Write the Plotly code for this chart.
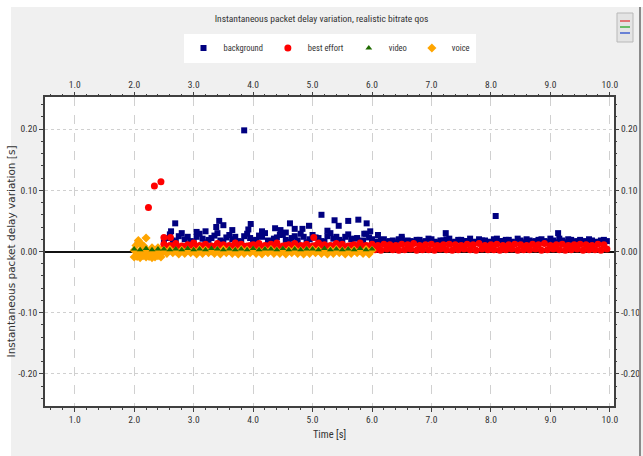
import plotly.graph_objects as go

# ---------------- data ----------------
X_TICKS = [1.0, 2.0, 3.0, 4.0, 5.0, 6.0, 7.0, 8.0, 9.0, 10.0]
X_LABELS = ["1.0", "2.0", "3.0", "4.0", "5.0", "6.0", "7.0", "8.0", "9.0", "10.0"]
Y_TICKS = [-0.2, -0.1, 0.0, 0.1, 0.2]
Y_LABELS = ["-0.20", "-0.10", "0.00", "0.10", "0.20"]

T_A = [2.5, 2.6, 2.7, 2.8, 2.9, 3.0, 3.1, 3.2, 3.3, 3.4, 3.5, 3.6, 3.7, 3.8, 3.9,
       4.0, 4.1, 4.2, 4.3, 4.4, 4.5, 4.6, 4.7, 4.8, 4.9, 5.0, 5.1, 5.2, 5.3, 5.4,
       5.5, 5.6, 5.7, 5.8, 5.9, 6.0]
T_A_OFF = [2.55, 2.65, 2.75, 2.85, 2.95, 3.05, 3.15, 3.25, 3.35, 3.45, 3.55, 3.65,
           3.75, 3.85, 3.95, 4.05, 4.15, 4.25, 4.35, 4.45, 4.55, 4.65, 4.75, 4.85,
           4.95, 5.05, 5.15, 5.25, 5.35, 5.45, 5.55, 5.65, 5.75, 5.85, 5.95]
T_B = [6.0, 6.1, 6.2, 6.3, 6.4, 6.5, 6.6, 6.7, 6.8, 6.9, 7.0, 7.1, 7.2, 7.3, 7.4,
       7.5, 7.6, 7.7, 7.8, 7.9, 8.0, 8.1, 8.2, 8.3, 8.4, 8.5, 8.6, 8.7, 8.8, 8.9,
       9.0, 9.1, 9.2, 9.3, 9.4, 9.5, 9.6, 9.7, 9.8, 9.9]
T_B_OFF = [6.05, 6.15, 6.25, 6.35, 6.45, 6.55, 6.65, 6.75, 6.85, 6.95, 7.05, 7.15,
           7.25, 7.35, 7.45, 7.55, 7.65, 7.75, 7.85, 7.95, 8.05, 8.15, 8.25, 8.35,
           8.45, 8.55, 8.65, 8.75, 8.85, 8.95, 9.05, 9.15, 9.25, 9.35, 9.45, 9.55,
           9.65, 9.75, 9.85, 9.95]
T_V = [2.0, 2.1, 2.2, 2.3, 2.4, 2.5, 2.6, 2.7, 2.8, 2.9, 3.0, 3.1, 3.2, 3.3, 3.4,
       3.5, 3.6, 3.7, 3.8, 3.9, 4.0, 4.1, 4.2, 4.3, 4.4, 4.5, 4.6, 4.7, 4.8, 4.9,
       5.0, 5.1, 5.2, 5.3, 5.4, 5.5, 5.6, 5.7, 5.8, 5.9, 6.0]
T_V_OFF = [2.05, 2.15, 2.25, 2.35, 2.45, 2.55, 2.65, 2.75, 2.85, 2.95, 3.05, 3.15,
           3.25, 3.35, 3.45, 3.55, 3.65, 3.75, 3.85, 3.95, 4.05, 4.15, 4.25, 4.35,
           4.45, 4.55, 4.65, 4.75, 4.85, 4.95, 5.05, 5.15, 5.25, 5.35, 5.45, 5.55,
           5.65, 5.75, 5.85, 5.95]
T_EARLY = [2.0, 2.05, 2.1, 2.15, 2.2, 2.25, 2.3, 2.35, 2.4, 2.45]

# background
BG_ROW_A = [0.015, 0.028, 0.016, 0.030, 0.024, 0.016, 0.029, 0.015, 0.022, 0.030,
            0.016, 0.027, 0.024, 0.016, 0.029, 0.017, 0.026, 0.030, 0.016, 0.023,
            0.028, 0.016, 0.025, 0.029, 0.015, 0.027, 0.022, 0.016, 0.030, 0.024,
            0.016, 0.028, 0.021, 0.017, 0.029, 0.020]
BG_ROW_A_OFF = [0.022, 0.018, 0.025, 0.020, 0.017, 0.024, 0.021, 0.019, 0.026, 0.018,
                0.023, 0.020, 0.017, 0.025, 0.022, 0.019, 0.024, 0.018, 0.021, 0.027,
                0.019, 0.022, 0.018, 0.024, 0.020, 0.023, 0.017, 0.025, 0.021, 0.019,
                0.024, 0.020, 0.022, 0.018, 0.023]
BG_ROW_B = [0.019, 0.016, 0.020, 0.017, 0.015, 0.021, 0.018, 0.016, 0.019, 0.017,
            0.020, 0.015, 0.018, 0.021, 0.016, 0.019, 0.017, 0.015, 0.020, 0.018,
            0.016, 0.021, 0.017, 0.019, 0.015, 0.018, 0.020, 0.016, 0.019, 0.017,
            0.021, 0.015, 0.018, 0.020, 0.016, 0.019, 0.017, 0.018, 0.016, 0.019]
BG_ROW_B_OFF = [0.016, 0.019, 0.015, 0.018, 0.020, 0.016, 0.017, 0.019, 0.015, 0.021,
                0.016, 0.018, 0.020, 0.015, 0.019, 0.017, 0.021, 0.016, 0.018, 0.015,
                0.020, 0.017, 0.019, 0.016, 0.021, 0.015, 0.018, 0.017, 0.020, 0.016,
                0.018, 0.021, 0.015, 0.019, 0.017, 0.016, 0.020, 0.015, 0.018, 0.017]
BG_SPIKE_T = [2.62, 2.69, 3.05, 3.20, 3.38, 3.43, 3.50, 3.65, 3.85, 3.92,
              3.96, 4.15, 4.37, 4.46, 4.55, 4.62, 4.70, 4.83, 4.94, 5.15,
              5.25, 5.37, 5.44, 5.60, 5.77, 5.87, 5.91, 5.97, 6.10, 6.50,
              7.24, 8.08, 9.13]
BG_SPIKE_V = [0.033, 0.046, 0.032, 0.033, 0.040, 0.050, 0.043, 0.035, 0.198, 0.036,
              0.045, 0.033, 0.038, 0.035, 0.031, 0.046, 0.037, 0.037, 0.042, 0.060,
              0.034, 0.051, 0.042, 0.050, 0.052, 0.029, 0.046, 0.033, 0.027, 0.024,
              0.030, 0.058, 0.030]

# best effort
BE_SPIKE_T = [2.24, 2.34, 2.45, 2.50, 2.61, 5.02]
BE_SPIKE_V = [0.072, 0.107, 0.114, 0.023, 0.023, 0.023]
BE_ROW_A = [0.012, 0.010, 0.013, 0.009, 0.011, 0.014, 0.010, 0.012, 0.009, 0.013,
            0.011, 0.010, 0.014, 0.012, 0.009, 0.011, 0.013, 0.010, 0.012, 0.014,
            0.009, 0.011, 0.013, 0.010, 0.012, 0.009, 0.014, 0.011, 0.010, 0.013,
            0.012, 0.009, 0.011, 0.014, 0.010, 0.012]
BE_ROW_A_OFF = [0.007, 0.009, 0.006, 0.008, 0.010, 0.007, 0.009, 0.006, 0.008, 0.010,
                0.007, 0.006, 0.009, 0.008, 0.010, 0.007, 0.006, 0.009, 0.008, 0.007,
                0.010, 0.006, 0.008, 0.009, 0.007, 0.010, 0.006, 0.008, 0.009, 0.007,
                0.006, 0.010, 0.008, 0.007, 0.009]
BE_ROW_B = [0.011, 0.010, 0.012, 0.011, 0.010, 0.012, 0.011, 0.013, 0.010, 0.011,
            0.012, 0.010, 0.011, 0.012, 0.011, 0.010, 0.012, 0.011, 0.013, 0.010,
            0.011, 0.012, 0.010, 0.011, 0.012, 0.011, 0.010, 0.012, 0.011, 0.013,
            0.010, 0.011, 0.012, 0.010, 0.011, 0.012, 0.011, 0.010, 0.012, 0.011]
BE_ROW_B_OFF = [0.003, 0.002, 0.004, 0.003, 0.002, 0.003, 0.004, 0.002, 0.003, 0.003,
                0.002, 0.004, 0.003, 0.002, 0.003, 0.004, 0.003, 0.002, 0.004, 0.003,
                0.003, 0.002, 0.003, 0.004, 0.002, 0.003, 0.003, 0.004, 0.002, 0.003,
                0.004, 0.003, 0.002, 0.003, 0.004, 0.002, 0.003, 0.003, 0.002, 0.004]

# video
VIDEO_ROW = [0.004, 0.003, 0.005, 0.003, 0.004, 0.004, 0.003, 0.004, 0.003, 0.005,
             0.003, 0.004, 0.003, 0.005, 0.004, 0.003, 0.004, 0.003, 0.004, 0.003,
             0.005, 0.003, 0.004, 0.004, 0.003, 0.005, 0.003, 0.004, 0.003, 0.004,
             0.004, 0.003, 0.005, 0.003, 0.004, 0.003, 0.004, 0.003, 0.005, 0.003,
             0.004]

# voice
VOICE_ROW = [0.002, 0.001, 0.003, 0.002, 0.001, 0.002, 0.003, 0.001, 0.002, 0.002,
             0.001, 0.003, 0.002, 0.001, 0.002, 0.003, 0.002, 0.001, 0.003, 0.002,
             0.002, 0.001, 0.002, 0.003, 0.001, 0.002, 0.002, 0.003, 0.001, 0.002,
             0.003, 0.002, 0.001, 0.002, 0.003, 0.001, 0.002, 0.002, 0.001, 0.003,
             0.002]
VOICE_ROW_OFF = [-0.003, -0.004, -0.002, -0.003, -0.004, -0.003, -0.002, -0.004, -0.003, -0.002,
                 -0.004, -0.003, -0.002, -0.003, -0.004, -0.002, -0.003, -0.004, -0.003, -0.002,
                 -0.003, -0.004, -0.002, -0.003, -0.003, -0.004, -0.002, -0.003, -0.004, -0.003,
                 -0.002, -0.003, -0.004, -0.003, -0.002, -0.004, -0.003, -0.002, -0.003, -0.004]
VOICE_EARLY = [-0.009, -0.008, -0.010, -0.007, -0.009, -0.008, -0.010, -0.009, -0.007, -0.009]
VOICE_SPIKE_T = [2.03, 2.07, 2.12, 2.16, 2.20, 2.30, 2.40]
VOICE_SPIKE_V = [0.010, 0.018, 0.012, 0.009, 0.022, 0.006, 0.006]

# ---------------- figure ----------------
FONT = "Roboto Condensed, Liberation Sans, sans-serif"
AX = "#404040"
TXT = "#333333"

fig = go.Figure()

fig.add_trace(go.Scatter(
    name="background", mode="markers",
    x=T_A + T_A_OFF + T_B + T_B_OFF + BG_SPIKE_T,
    y=BG_ROW_A + BG_ROW_A_OFF + BG_ROW_B + BG_ROW_B_OFF + BG_SPIKE_V,
    marker=dict(symbol="square", size=6, color="#000080", line=dict(width=0)),
))
fig.add_trace(go.Scatter(
    name="best effort", mode="markers",
    x=BE_SPIKE_T + T_A + T_A_OFF + T_B + T_B_OFF,
    y=BE_SPIKE_V + BE_ROW_A + BE_ROW_A_OFF + BE_ROW_B + BE_ROW_B_OFF,
    marker=dict(symbol="circle", size=7, color="#ff0000", line=dict(width=0)),
))
fig.add_trace(go.Scatter(
    name="video", mode="markers", xaxis="x2", yaxis="y2",
    x=T_V, y=VIDEO_ROW,
    marker=dict(symbol="triangle-up", size=6, color="#1f6b00", line=dict(width=0)),
))
fig.add_trace(go.Scatter(
    name="voice", mode="markers",
    x=T_V + T_V_OFF + T_EARLY + VOICE_SPIKE_T,
    y=VOICE_ROW + VOICE_ROW_OFF + VOICE_EARLY + VOICE_SPIKE_V,
    marker=dict(symbol="diamond", size=7, color="#ffa500", line=dict(width=0)),
))

XR = [0.5, 10.07]
YR = [-0.2525, 0.2525]
tickfont = dict(family=FONT, size=9.5, color=TXT)

common_x = dict(range=XR, tickmode="array", tickvals=X_TICKS, ticktext=X_LABELS,
                ticks="outside", ticklen=4, tickwidth=1, tickcolor=AX,
                minor=dict(dtick=0.2, tick0=0, ticks="outside", ticklen=2,
                           tickcolor=AX, showgrid=False),
                tickfont=tickfont, zeroline=False)
common_y = dict(range=YR, tickmode="array", tickvals=Y_TICKS, ticktext=Y_LABELS,
                ticks="outside", ticklen=4, tickwidth=1, tickcolor=AX,
                minor=dict(dtick=0.02, tick0=0, ticks="outside", ticklen=2,
                           tickcolor=AX, showgrid=False),
                tickfont=tickfont)

fig.update_layout(
    width=643, height=456,
    margin=dict(l=45, r=29, t=97, b=50, autoexpand=False),
    paper_bgcolor="#f0f0f0",
    plot_bgcolor="#ffffff",
    font=dict(family=FONT, size=10, color=TXT),
    title=dict(text="Instantaneous packet delay variation, realistic bitrate qos",
               x=0.5, xanchor="center", y=1 - 19 / 456, yanchor="middle",
               font=dict(family=FONT, size=9.5, color=TXT)),
    showlegend=True,
    legend=dict(orientation="h", x=0.5, xanchor="center", xref="paper",
                y=1 + 49 / 309, yanchor="middle", yref="paper",
                bgcolor="#ffffff", borderwidth=0,
                font=dict(family=FONT, size=8.5, color=TXT),
                itemwidth=30, itemsizing="trace", tracegroupgap=0),
    xaxis=dict(**common_x, showgrid=True, gridcolor="#d0d0d0", griddash="dash",
               gridwidth=1, showline=True, linecolor=AX, linewidth=2, mirror=True,
               title=dict(text="Time [s]", font=dict(family=FONT, size=10.5, color=TXT),
                          standoff=6)),
    xaxis2=dict(**common_x, overlaying="x", side="top", anchor="y2", matches="x",
                showgrid=False, showline=False),
    yaxis=dict(**common_y, showgrid=True, gridcolor="#d0d0d0", griddash="dot",
               gridwidth=1, showline=True, linecolor=AX, linewidth=2, mirror=True,
               zeroline=True, zerolinecolor="#111111", zerolinewidth=1.5,
               layer="above traces",
               title=dict(text="Instantaneous packet delay variation [s]",
                          font=dict(family="DejaVu Sans, sans-serif", size=10.5, color=TXT),
                          standoff=0)),
    yaxis2=dict(**common_y, overlaying="y", side="right", anchor="x2", matches="y",
                showgrid=False, showline=False, zeroline=False),
    shapes=[
        # white frame strips around the grey panel
        dict(type="rect", xref="paper", yref="paper", x0=-45 / 569, x1=-34 / 569,
             y0=-0.2, y1=1.4, fillcolor="#ffffff", line=dict(width=0), layer="below"),
        dict(type="rect", xref="paper", yref="paper", x0=-0.1, x1=1.1,
             y0=1 + 90 / 309, y1=1.4, fillcolor="#ffffff", line=dict(width=0), layer="below"),
        dict(type="line", xref="paper", yref="paper", x0=595 / 569, x1=595 / 569,
             y0=-0.2, y1=1 + 90 / 309, line=dict(color="#8a8a8a", width=2)),
        # toolbar icon
        dict(type="rect", xref="paper", yref="paper", x0=572 / 569, x1=588 / 569,
             y0=1 + 55 / 309, y1=1 + 84 / 309, fillcolor="#e4e4e4",
             line=dict(color="#b8b8b8", width=1)),
        dict(type="line", xref="paper", yref="paper", x0=575 / 569, x1=585 / 569,
             y0=1 + 76 / 309, y1=1 + 76 / 309, line=dict(color="#e05050", width=1.5)),
        dict(type="line", xref="paper", yref="paper", x0=575 / 569, x1=585 / 569,
             y0=1 + 70 / 309, y1=1 + 70 / 309, line=dict(color="#40b040", width=1.5)),
        dict(type="line", xref="paper", yref="paper", x0=575 / 569, x1=585 / 569,
             y0=1 + 64 / 309, y1=1 + 64 / 309, line=dict(color="#4060d0", width=1.5)),
    ],
)

fig.write_html("out.html")
